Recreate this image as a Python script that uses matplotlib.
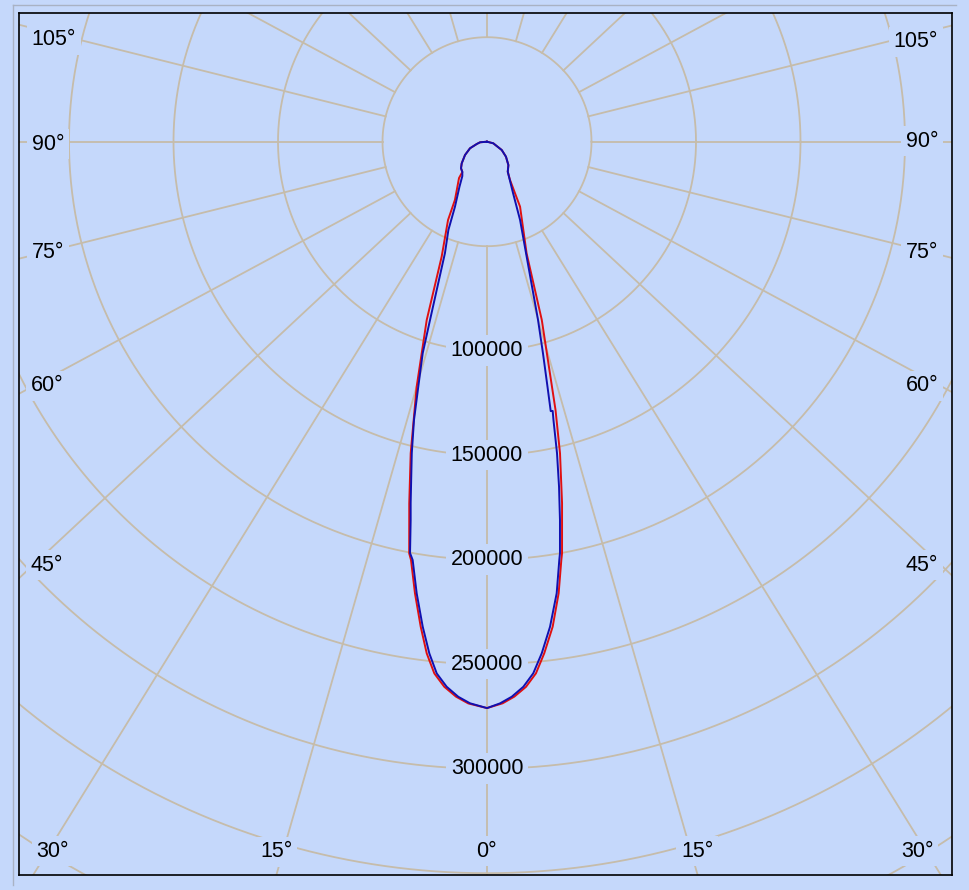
import numpy as np
import matplotlib
matplotlib.use("Agg")
import matplotlib.pyplot as plt
from matplotlib.lines import Line2D

# Luminous intensity (cd) against gamma angle (deg).
# Left half and right half of each plane listed separately, from 0 deg upwards.
blue_left_deg = [0, 1.62, 2.76, 3.95, 5.04, 6.0, 7.05, 8.26, 9.41, 9.9, 10.66, 11.15,
                 11.61, 12.7, 13.75, 14.66, 15.83, 16.6, 19.4, 22.2, 24.7, 29.7,
                 33.8, 37.2, 42.4, 47.5, 57, 67.5, 76.5, 84.7, 90]
blue_left_cd = [271000, 268800, 265900, 261400, 255400, 246200, 233800, 218400,
                202900, 199800, 184200, 176200, 168500, 152700, 137100, 121200,
                105200, 89000, 56500, 45600, 34200, 24800, 19800, 18200, 17200,
                15300, 11700, 8200, 4700, 3100, 0]
blue_right_deg = [0, 1.24, 2.38, 3.56, 4.64, 5.70, 6.91, 8.19, 9.16, 9.39, 10.2,
                  11.02, 11.84, 12.56, 12.82, 12.44, 12.97, 13.86, 14.95, 18.1,
                  21.5, 25.3, 32.8, 40.5, 49.7, 58.8, 74.8, 90]
blue_right_cd = [271000, 268800, 265800, 261300, 255200, 246000, 233800, 218300,
                 202700, 199600, 183900, 168200, 152300, 136400, 132100, 132000,
                 120300, 104300, 88300, 56000, 40300, 27200, 17100, 14700, 11100,
                 7700, 2900, 0]

red_left_deg = [0, 1.78, 2.98, 4.18, 5.28, 6.27, 7.27, 8.46, 9.62, 10.0, 11.34,
                12.87, 14.99, 17.5, 20.2, 24.9, 27.2, 35.7, 37.2, 42.4, 47.5, 57,
                67.5, 76.5, 84.7, 90]
red_left_cd = [271000, 268900, 265900, 261500, 255500, 246300, 233900, 218500,
               203000, 200000, 176500, 152900, 121400, 89500, 58600, 41300, 31300,
               21400, 18200, 17200, 15300, 11700, 8200, 4700, 3100, 0]
red_right_deg = [0, 1.49, 2.63, 3.82, 4.91, 5.96, 7.20, 8.42, 9.41, 9.65, 10.96,
                 12.33, 13.4, 16.0, 18.3, 25.4, 29.3, 32.8, 40.5, 49.7, 58.8, 74.8, 90]
red_right_cd = [271000, 268800, 265800, 261400, 255300, 246100, 233900, 218400,
                202900, 199800, 176200, 152600, 132000, 88700, 56300, 34400, 21000,
                17100, 14700, 11100, 7700, 2900, 0]

ring_values = [50000, 100000, 150000, 200000, 250000, 300000, 350000, 400000]
ring_labels = [100000, 150000, 200000, 250000, 300000]
spoke_angles = list(range(0, 360, 15))

# angle labels: text, axes-fraction position
angle_labels = [
    ("105°", 0.0375, 0.9687), ("90°", 0.0311, 0.8480), ("75°", 0.0311, 0.7216),
    ("60°", 0.0300, 0.5673), ("45°", 0.0300, 0.3596), ("30°", 0.0364, 0.0278),
    ("15°", 0.2755, 0.0267), ("0°", 0.5005, 0.0278), ("15°", 0.7267, 0.0278),
    ("30°", 0.9625, 0.0278), ("105°", 0.9614, 0.9664), ("90°", 0.9678, 0.8515),
    ("75°", 0.9678, 0.7216), ("60°", 0.9678, 0.5673), ("45°", 0.9678, 0.3596),
]

BG = "#c5d8fb"
GRID = "#c6bcaa"
XS = 1.072      # the angle grid is drawn slightly wider than tall
CD_PER_PX = 50000 / 104.5
FONT = "Liberation Sans"


def curve_xy(left_deg, left_cd, right_deg, right_cd):
    ang = np.radians(np.concatenate([-np.array(left_deg[::-1]), np.array(right_deg)]))
    cd = np.concatenate([np.array(left_cd[::-1]), np.array(right_cd)])
    return cd * np.sin(ang) * XS, -cd * np.cos(ang)


fig = plt.figure(figsize=(9.69, 8.90), dpi=100, facecolor=BG)
ax = fig.add_axes([19 / 969, 15 / 890, 933 / 969, 862 / 890])
ax.set_facecolor(BG)
ax.set_xlim(-468 * CD_PER_PX, 465 * CD_PER_PX)
ax.set_ylim(-733.3 * CD_PER_PX, 128.7 * CD_PER_PX)
ax.set_xticks([])
ax.set_yticks([])
for sp in ax.spines.values():
    sp.set_color("black")
    sp.set_linewidth(1.2)

# rings
t = np.linspace(0, 2 * np.pi, 721)
for r in ring_values:
    ax.plot(r * np.cos(t), r * np.sin(t), color=GRID, lw=1.3, zorder=1)

# spokes, starting on the inner ring
for a in spoke_angles:
    th = np.radians(a)
    d = np.array([XS * np.sin(th), -np.cos(th)])
    d = d / np.hypot(*d)
    ax.plot([ring_values[0] * d[0], 600000 * d[0]],
            [ring_values[0] * d[1], 600000 * d[1]], color=GRID, lw=1.3, zorder=1)

# curves
rx, ry = curve_xy(red_left_deg, red_left_cd, red_right_deg, red_right_cd)
bx, by = curve_xy(blue_left_deg, blue_left_cd, blue_right_deg, blue_right_cd)
ax.plot(rx, ry, color="#e01010", lw=1.4, zorder=3, solid_joinstyle="round")
ax.plot(bx, by, color="#1010b0", lw=1.4, zorder=4, solid_joinstyle="round")

box = dict(boxstyle="square,pad=0.22", fc=BG, ec="none")
for v in ring_labels:
    ax.text(0, -v, str(v), ha="center", va="center", fontsize=15.5, family=FONT,
            bbox=box, zorder=5)
for txt, fx, fy in angle_labels:
    ax.text(fx, fy, txt, transform=ax.transAxes, ha="center", va="center",
            fontsize=15.5, family=FONT, bbox=box, zorder=5)

# thin panel border round the chart
fig.add_artist(Line2D([12.7 / 969, 12.7 / 969], [885 / 890, 5 / 890],
                      transform=fig.transFigure, color="#a9b2c4", lw=1))
fig.add_artist(Line2D([12.7 / 969, 956 / 969], [885 / 890, 885 / 890],
                      transform=fig.transFigure, color="#a9b2c4", lw=1))

fig.savefig("out.png", dpi=100, facecolor=BG)
